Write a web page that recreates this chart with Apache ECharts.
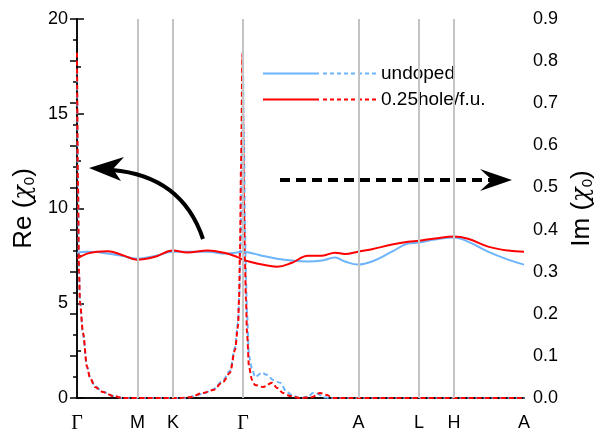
<!DOCTYPE html>
<html><head><meta charset="utf-8">
<script src="https://cdn.jsdelivr.net/npm/echarts@6/dist/echarts.min.js"></script>
<style>html,body{margin:0;padding:0;background:#fff}#c{width:599px;height:432px}</style>
</head><body><div id="c"></div>
<script>
// high-symmetry path positions and labels
const kPos = [0, 60.5, 96, 166, 281.5, 342, 377, 447];
const kLabels = ['Γ', 'M', 'K', 'Γ', 'A', 'L', 'H', 'A'];
const legendNames = ['undoped', '0.25hole/f.u.'];

// Re(chi) (left axis)
const reX = [0,10,20,31,45,60,78,96,110,131,148,160,166,172,185,200,215,231,245,258,268,281,295,315,331,342,358,377,391,411,431,447];
const reUndoped = [7.67,7.72,7.7,7.62,7.5,7.35,7.5,7.72,7.72,7.72,7.62,7.68,7.72,7.68,7.51,7.35,7.25,7.2,7.25,7.41,7.2,7.04,7.2,7.72,8.15,8.2,8.36,8.47,8.25,7.72,7.3,7.04];
const reDoped = [7.35,7.62,7.72,7.75,7.55,7.30,7.45,7.78,7.68,7.78,7.65,7.45,7.30,7.2,7.04,6.93,7.14,7.51,7.51,7.67,7.6,7.72,7.85,8.1,8.25,8.3,8.42,8.52,8.4,7.99,7.78,7.72];

// Im(chi) (right axis)
const imUndopedX = [0,1,2,3,6,10,13,18,26,36,46,108,126,136,146,153,158,161,162.5,163.5,165,166,167,168,169,170,172,175,178,185,190,196,203,210,216,223,231,236,241,246,253,447];
const imUndoped = [0.78,0.5,0.3,0.23,0.15,0.075,0.05,0.028,0.014,0.005,0,0,0.01,0.02,0.042,0.065,0.12,0.18,0.25,0.36,0.6,0.78,0.6,0.4,0.28,0.2,0.1,0.07,0.05,0.06,0.055,0.043,0.036,0.014,0.005,0,0.003,0.012,0.01,0.002,0,0];
const imDopedX = [0,1,2,3,6,10,13,18,26,36,46,103,113,126,136,146,153,158,161,162,163,164,165.5,167,168,169,170,172,175,178,186,195,200,206,213,223,235,243,250,256,447];
const imDoped = [0.82,0.5,0.3,0.226,0.155,0.074,0.048,0.026,0.014,0.005,0,0,0.002,0.012,0.019,0.038,0.06,0.114,0.17,0.233,0.35,0.55,0.82,0.45,0.32,0.233,0.155,0.074,0.043,0.031,0.026,0.036,0.024,0.012,0.005,0,0.002,0.012,0.007,0,0];

const BLUE = '#6cb4fb', RED = '#ff0000';
const zip = (xs, ys) => xs.map((x, i) => [x, ys[i]]);
const FONT = 'Liberation Sans, Arial, sans-serif';

// legend icon: solid segment followed by dashes
let iconPath = 'path://M0,0H56V2H0Z';
for (let s = 60; s + 4 <= 113; s += 7) iconPath += ' M' + s + ',0H' + (s + 4) + 'V2H' + s + 'Z';

const chart = echarts.init(document.getElementById('c'), null, {renderer: 'canvas'});
const nameRich = {
  i: {fontFamily: 'DejaVu Serif', fontStyle: 'italic', fontSize: 24, color: '#000'},
  s: {fontFamily: FONT, fontSize: 15, verticalAlign: 'bottom', padding: [11, 0, 0, 0], color: '#000'}
};
chart.setOption({
  animation: false,
  backgroundColor: '#fff',
  grid: {left: 77, right: 75, top: 19, bottom: 34, containLabel: false, outerBoundsMode: 'none'},
  legend: {
    data: legendNames, orient: 'vertical', left: 258, top: 59,
    icon: iconPath, itemWidth: 113, itemHeight: 2, itemGap: 7,
    textStyle: {fontSize: 19, fontFamily: FONT, color: '#000'},
    itemStyle: {borderWidth: 0}
  },
  xAxis: [{
    type: 'value', min: 0, max: 447, position: 'bottom',
    axisLine: {show: true, lineStyle: {color: '#000', width: 1.5}},
    axisTick: {show: false}, splitLine: {show: false},
    axisLabel: {
      customValues: kPos, margin: 16, color: '#000', fontSize: 18, fontFamily: FONT,
      formatter: v => {
        const i = kPos.findIndex(p => Math.abs(p - v) < 1e-6);
        const t = i >= 0 ? kLabels[i] : '';
        return t === 'Γ' ? '{g|Γ}' : t;
      },
      rich: {g: {fontFamily: 'Liberation Serif, Times New Roman, serif', fontSize: 20, color: '#000'}}
    }
  }, {
    type: 'value', min: 0, max: 447, position: 'top',
    axisLine: {show: true, lineStyle: {color: '#000', width: 1.5}},
    axisTick: {show: false}, axisLabel: {show: false}, splitLine: {show: false}
  }],
  yAxis: [{
    type: 'value', min: 0, max: 20, interval: 5, position: 'left',
    name: 'Re ({i|χ}{s|0})', nameLocation: 'middle', nameRotate: 90, nameGap: 37,
    nameTextStyle: {fontSize: 26, fontFamily: FONT, color: '#000', rich: nameRich},
    axisLine: {show: true, lineStyle: {color: '#000', width: 1.5}},
    axisTick: {show: true, inside: true, length: 7, lineStyle: {color: '#000', width: 1.5}},
    minorTick: {show: true, splitNumber: 2, length: 4, lineStyle: {color: '#000', width: 1.5}},
    splitLine: {show: false},
    axisLabel: {fontSize: 18, fontFamily: FONT, color: '#000', margin: 9}
  }, {
    type: 'value', min: 0, max: 0.9, interval: 0.1, position: 'right',
    name: 'Im ({i|χ}{s|0})', nameLocation: 'middle', nameRotate: 90, nameGap: 41,
    nameTextStyle: {fontSize: 26, fontFamily: FONT, color: '#000', rich: nameRich},
    axisLine: {show: true, lineStyle: {color: '#000', width: 1.5}},
    axisTick: {show: true, inside: true, length: 7, lineStyle: {color: '#000', width: 1.5}},
    minorTick: {show: true, splitNumber: 2, length: 4, lineStyle: {color: '#000', width: 1.5}},
    splitLine: {show: false},
    axisLabel: {fontSize: 18, fontFamily: FONT, color: '#000', margin: 9, formatter: v => v.toFixed(1)}
  }],
  series: [{
    name: 'Im undoped', type: 'line', xAxisIndex: 0, yAxisIndex: 1, z: 1,
    data: zip(imUndopedX, imUndoped), showSymbol: false, smooth: 0.3, smoothMonotone: 'x',
    color: BLUE, lineStyle: {color: BLUE, width: 2, type: [5, 3]},
    markLine: {
      silent: true, symbol: ['none', 'none'], label: {show: false},
      lineStyle: {color: '#c4c4c4', width: 2, type: 'solid'},
      data: kPos.slice(1, -1).map(p => ({xAxis: p}))
    }
  }, {
    name: 'Im doped', type: 'line', xAxisIndex: 0, yAxisIndex: 1, z: 2,
    data: zip(imDopedX, imDoped), showSymbol: false, smooth: 0.3, smoothMonotone: 'x',
    color: RED, lineStyle: {color: RED, width: 2, type: [5, 3]}
  }, {
    name: legendNames[0], type: 'line', xAxisIndex: 0, yAxisIndex: 0, z: 3,
    data: zip(reX, reUndoped), showSymbol: false, smooth: 0.4,
    color: BLUE, lineStyle: {color: BLUE, width: 2}
  }, {
    name: legendNames[1], type: 'line', xAxisIndex: 0, yAxisIndex: 0, z: 4,
    data: zip(reX, reDoped), showSymbol: false, smooth: 0.4,
    color: RED, lineStyle: {color: RED, width: 2}
  }],
  graphic: [
    {type: 'bezierCurve', z: 10, shape: {x1: 203, y1: 239, cpx1: 182, cpy1: 176, x2: 112, y2: 170},
     style: {stroke: '#000', lineWidth: 4, fill: null}},
    {type: 'polygon', z: 10, shape: {points: [[89, 168], [124, 157], [113, 169], [121, 181]]},
     style: {fill: '#000'}},
    {type: 'line', z: 10, shape: {x1: 280, y1: 180, x2: 496, y2: 180},
     style: {stroke: '#000', lineWidth: 4, lineDash: [10, 6]}},
    {type: 'polygon', z: 10, shape: {points: [[512, 180], [480, 169], [492, 180], [480, 191]]},
     style: {fill: '#000'}}
  ]
});
</script></body></html>
